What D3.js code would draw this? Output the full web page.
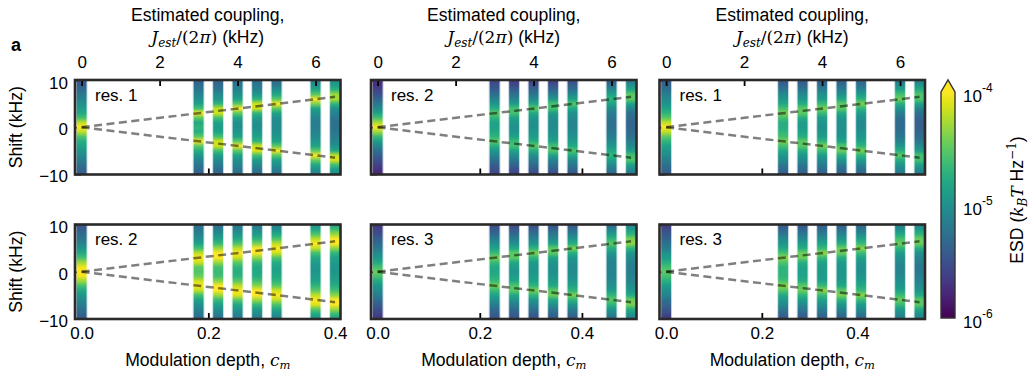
<!DOCTYPE html>
<html>
<head>
<meta charset="utf-8">
<script src="https://cdn.jsdelivr.net/npm/d3@7"></script>
<style>
  body { margin: 0; background: #fff; }
  svg { display: block; font-family: "Liberation Sans", Arial, sans-serif; }
  .math { font-family: "DejaVu Serif", "Liberation Serif", serif; font-style: italic; }
  .upright { font-family: "DejaVu Serif", "Liberation Serif", serif; font-style: normal; }
</style>
</head>
<body>
<svg id="fig" width="1029" height="373"></svg>
<script>
// ---- data -------------------------------------------------------------
// Frequency shift of each spectrum row (kHz), top to bottom
const shifts = [10, 9, 8, 7, 6, 5, 4, 3, 2, 1, 0, -1, -2, -3, -4, -5, -6, -7, -8, -9, -10];
// Target coupling J/(2π) of each measured modulation setting (kHz)
const couplingTargets = [0, 3, 3.5, 4, 4.5, 5, 6, 6.5];
// Coupling produced per unit modulation depth c_m, one per column (kHz)
const depthCalibration = [16.25, 13.1, 12.27];
const resonatorLabels = [["res. 1", "res. 2"], ["res. 2", "res. 3"], ["res. 1", "res. 3"]];
const couplingTicks = [0, 2, 4, 6];
const depthTicks = [0, 0.2, 0.4];
const shiftTicks = [-10, 0, 10];
const esdTicks = [1e-6, 1e-5, 1e-4];

// log10 of the energy spectral density (k_B T / Hz); one row per modulation setting
const esdLeftTop = [
  [-5.45,-5.4,-5.3,-5.2,-5.1,-5.0,-4.9,-4.8,-4.6,-4.2,-4.0,-4.2,-4.55,-4.75,-4.85,-4.95,-5.05,-5.15,-5.25,-5.35,-5.4],
  [-5.4,-5.3,-5.2,-5.1,-5.0,-4.85,-4.6,-4.0,-4.5,-4.8,-4.7,-4.75,-4.5,-4.0,-4.5,-4.75,-4.95,-5.1,-5.2,-5.3,-5.4],
  [-5.35,-5.3,-5.2,-5.05,-4.95,-4.7,-4.2,-4.15,-4.6,-4.85,-4.9,-4.85,-4.6,-4.15,-4.15,-4.6,-4.9,-5.05,-5.15,-5.3,-5.35],
  [-5.3,-5.2,-5.1,-5.0,-4.85,-4.5,-4.0,-4.5,-4.85,-5.0,-5.0,-4.95,-4.85,-4.5,-4.0,-4.5,-4.85,-5.0,-5.1,-5.2,-5.3],
  [-5.3,-5.2,-5.1,-4.95,-4.7,-4.15,-4.15,-4.7,-4.9,-5.0,-5.0,-4.95,-4.85,-4.7,-4.15,-4.1,-4.6,-4.9,-5.05,-5.2,-5.3],
  [-5.3,-5.2,-5.0,-4.8,-4.5,-4.0,-4.5,-4.85,-5.0,-5.05,-5.05,-5.0,-4.95,-4.85,-4.5,-4.0,-4.5,-4.85,-5.0,-5.15,-5.25],
  [-5.15,-5.0,-4.8,-4.5,-4.0,-4.4,-4.85,-5.0,-5.1,-5.15,-5.15,-5.1,-5.05,-4.95,-4.85,-4.5,-4.0,-4.45,-4.8,-5.0,-5.1],
  [-5.0,-4.9,-4.7,-4.3,-4.25,-4.7,-5.0,-5.1,-5.2,-5.25,-5.25,-5.2,-5.15,-5.1,-5.0,-4.8,-4.2,-4.1,-4.6,-4.9,-5.0]
];
const esdLeftBottom = [
  [-5.45,-5.4,-5.3,-5.2,-5.1,-4.95,-4.8,-4.6,-4.3,-4.05,-3.95,-4.05,-4.3,-4.6,-4.8,-4.95,-5.05,-5.15,-5.25,-5.35,-5.45],
  [-5.3,-5.2,-5.1,-5.0,-4.85,-4.6,-4.2,-3.95,-4.15,-4.5,-4.55,-4.45,-4.15,-3.95,-4.2,-4.6,-4.85,-5.0,-5.1,-5.2,-5.35],
  [-5.25,-5.15,-5.0,-4.85,-4.65,-4.3,-3.95,-3.95,-4.3,-4.6,-4.65,-4.6,-4.35,-4.0,-3.95,-4.3,-4.65,-4.85,-5.0,-5.15,-5.25],
  [-5.2,-5.1,-4.95,-4.8,-4.55,-4.2,-3.95,-4.15,-4.5,-4.7,-4.75,-4.7,-4.5,-4.2,-3.95,-4.1,-4.5,-4.8,-4.95,-5.1,-5.2],
  [-5.2,-5.05,-4.9,-4.7,-4.4,-4.0,-3.95,-4.35,-4.65,-4.8,-4.8,-4.75,-4.6,-4.35,-4.0,-3.95,-4.3,-4.65,-4.9,-5.05,-5.2],
  [-5.15,-5.0,-4.8,-4.55,-4.2,-3.95,-4.15,-4.55,-4.75,-4.85,-4.85,-4.8,-4.7,-4.5,-4.15,-3.95,-4.2,-4.55,-4.8,-5.0,-5.15],
  [-5.0,-4.8,-4.55,-4.2,-3.95,-4.2,-4.6,-4.8,-4.9,-4.95,-4.95,-4.9,-4.85,-4.7,-4.5,-4.2,-3.95,-4.1,-4.5,-4.8,-4.95],
  [-4.85,-4.6,-4.3,-4.0,-4.0,-4.35,-4.7,-4.85,-4.9,-4.95,-4.95,-4.9,-4.85,-4.75,-4.6,-4.35,-4.0,-3.95,-4.3,-4.65,-4.85]
];
const esdMiddleTop = [
  [-5.75,-5.7,-5.6,-5.5,-5.35,-5.2,-5.05,-4.85,-4.6,-4.25,-4.0,-4.3,-4.65,-4.9,-5.1,-5.25,-5.4,-5.5,-5.6,-5.7,-5.8],
  [-5.6,-5.5,-5.4,-5.25,-5.1,-4.95,-4.75,-4.5,-4.7,-4.85,-4.85,-4.8,-4.7,-4.5,-4.75,-4.95,-5.1,-5.25,-5.4,-5.5,-5.6],
  [-5.65,-5.55,-5.4,-5.25,-5.1,-4.9,-4.6,-4.6,-4.85,-4.95,-5.0,-4.95,-4.85,-4.65,-4.6,-4.85,-5.05,-5.2,-5.35,-5.5,-5.6],
  [-5.6,-5.5,-5.35,-5.2,-5.05,-4.8,-4.5,-4.8,-4.95,-5.0,-5.0,-4.95,-4.9,-4.75,-4.5,-4.75,-5.0,-5.15,-5.3,-5.45,-5.55],
  [-5.65,-5.5,-5.35,-5.15,-4.95,-4.6,-4.6,-4.9,-5.0,-5.05,-5.05,-5.0,-4.95,-4.85,-4.6,-4.55,-4.85,-5.1,-5.25,-5.4,-5.55],
  [-5.55,-5.4,-5.25,-5.05,-4.85,-4.55,-4.8,-5.0,-5.05,-5.1,-5.1,-5.05,-5.0,-4.9,-4.8,-4.55,-4.8,-5.05,-5.2,-5.35,-5.5],
  [-5.4,-5.25,-5.05,-4.85,-4.7,-4.85,-5.05,-5.15,-5.2,-5.25,-5.25,-5.2,-5.15,-5.05,-4.95,-4.8,-4.7,-4.85,-5.05,-5.2,-5.35],
  [-5.2,-5.0,-4.8,-4.5,-4.5,-4.85,-5.1,-5.25,-5.3,-5.35,-5.35,-5.3,-5.25,-5.15,-5.05,-4.9,-4.6,-4.55,-4.85,-5.05,-5.2]
];
const esdMiddleBottom = [
  [-5.7,-5.6,-5.5,-5.4,-5.3,-5.2,-5.05,-4.95,-4.8,-4.6,-4.45,-4.6,-4.8,-4.95,-5.05,-5.15,-5.3,-5.4,-5.5,-5.6,-5.7],
  [-5.55,-5.45,-5.3,-5.15,-5.0,-4.85,-4.65,-4.4,-4.65,-4.8,-4.8,-4.75,-4.65,-4.4,-4.65,-4.85,-5.0,-5.15,-5.3,-5.4,-5.5],
  [-5.55,-5.45,-5.3,-5.15,-5.0,-4.8,-4.5,-4.5,-4.8,-4.9,-4.95,-4.9,-4.8,-4.55,-4.5,-4.8,-5.0,-5.15,-5.3,-5.4,-5.5],
  [-5.5,-5.4,-5.25,-5.1,-4.95,-4.7,-4.4,-4.7,-4.9,-4.95,-4.95,-4.9,-4.85,-4.7,-4.4,-4.7,-4.95,-5.1,-5.25,-5.4,-5.5],
  [-5.5,-5.35,-5.2,-5.05,-4.85,-4.5,-4.5,-4.85,-4.95,-5.0,-5.0,-4.95,-4.9,-4.8,-4.5,-4.45,-4.8,-5.0,-5.2,-5.35,-5.45],
  [-5.45,-5.3,-5.15,-4.95,-4.75,-4.4,-4.75,-4.95,-5.0,-5.05,-5.05,-5.0,-4.95,-4.85,-4.7,-4.4,-4.7,-4.95,-5.15,-5.3,-5.45],
  [-5.3,-5.1,-4.9,-4.7,-4.5,-4.75,-4.95,-5.05,-5.1,-5.1,-5.1,-5.1,-5.05,-5.0,-4.9,-4.7,-4.5,-4.7,-4.95,-5.1,-5.25],
  [-5.1,-4.9,-4.7,-4.4,-4.35,-4.7,-4.95,-5.05,-5.1,-5.15,-5.15,-5.1,-5.1,-5.0,-4.95,-4.8,-4.45,-4.4,-4.75,-4.95,-5.1]
];
const esdRightTop = [
  [-5.45,-5.35,-5.25,-5.15,-5.05,-4.95,-4.85,-4.7,-4.5,-4.2,-4.0,-4.2,-4.5,-4.7,-4.85,-4.95,-5.05,-5.15,-5.25,-5.35,-5.45],
  [-5.45,-5.35,-5.2,-5.05,-4.95,-4.8,-4.6,-4.4,-4.6,-4.75,-4.75,-4.7,-4.6,-4.4,-4.6,-4.8,-4.95,-5.05,-5.2,-5.3,-5.4],
  [-5.45,-5.35,-5.2,-5.05,-4.95,-4.75,-4.5,-4.5,-4.75,-4.9,-4.9,-4.85,-4.75,-4.5,-4.5,-4.75,-4.95,-5.05,-5.2,-5.3,-5.4],
  [-5.4,-5.3,-5.15,-5.0,-4.9,-4.65,-4.4,-4.65,-4.9,-4.95,-5.0,-4.95,-4.9,-4.7,-4.4,-4.65,-4.9,-5.05,-5.15,-5.3,-5.4],
  [-5.4,-5.3,-5.15,-5.0,-4.8,-4.5,-4.5,-4.8,-4.95,-5.0,-5.0,-5.0,-4.95,-4.85,-4.55,-4.45,-4.75,-4.95,-5.15,-5.3,-5.4],
  [-5.35,-5.25,-5.1,-4.9,-4.7,-4.4,-4.7,-4.9,-5.0,-5.05,-5.05,-5.0,-4.95,-4.85,-4.7,-4.4,-4.7,-4.9,-5.1,-5.25,-5.35],
  [-5.2,-5.05,-4.85,-4.6,-4.45,-4.75,-5.0,-5.15,-5.25,-5.3,-5.3,-5.25,-5.2,-5.1,-4.95,-4.75,-4.5,-4.75,-4.95,-5.1,-5.2],
  [-5.15,-4.95,-4.75,-4.55,-4.55,-4.85,-5.1,-5.25,-5.35,-5.4,-5.4,-5.35,-5.3,-5.2,-5.05,-4.9,-4.6,-4.6,-4.85,-5.05,-5.15]
];
const esdRightBottom = [
  [-5.65,-5.55,-5.45,-5.35,-5.25,-5.15,-5.0,-4.9,-4.75,-4.6,-4.5,-4.6,-4.75,-4.9,-5.0,-5.1,-5.25,-5.35,-5.45,-5.55,-5.7],
  [-5.45,-5.35,-5.2,-5.05,-4.95,-4.8,-4.6,-4.35,-4.55,-4.7,-4.7,-4.7,-4.6,-4.35,-4.55,-4.8,-4.95,-5.05,-5.2,-5.35,-5.45],
  [-5.45,-5.35,-5.2,-5.05,-4.9,-4.75,-4.45,-4.45,-4.75,-4.85,-4.85,-4.85,-4.75,-4.5,-4.45,-4.7,-4.9,-5.05,-5.2,-5.35,-5.45],
  [-5.4,-5.3,-5.15,-5.0,-4.85,-4.65,-4.35,-4.65,-4.85,-4.9,-4.9,-4.9,-4.85,-4.65,-4.35,-4.65,-4.85,-5.0,-5.15,-5.3,-5.4],
  [-5.4,-5.25,-5.1,-4.95,-4.75,-4.45,-4.45,-4.75,-4.9,-4.95,-4.95,-4.95,-4.9,-4.8,-4.5,-4.4,-4.7,-4.95,-5.1,-5.25,-5.4],
  [-5.35,-5.2,-5.05,-4.85,-4.65,-4.35,-4.65,-4.85,-4.95,-5.0,-5.0,-4.95,-4.9,-4.8,-4.65,-4.35,-4.65,-4.9,-5.05,-5.2,-5.35],
  [-5.15,-5.0,-4.8,-4.6,-4.45,-4.7,-4.9,-5.0,-5.05,-5.1,-5.1,-5.05,-5.0,-4.95,-4.85,-4.65,-4.45,-4.65,-4.9,-5.05,-5.15],
  [-5.1,-4.9,-4.7,-4.45,-4.45,-4.75,-5.0,-5.1,-5.15,-5.2,-5.2,-5.15,-5.1,-5.05,-4.95,-4.8,-4.5,-4.5,-4.8,-5.0,-5.1]
];

// ---- layout -----------------------------------------------------------
const colLeft = [75, 371, 659.5];
const rowTop = [80, 224.5];
const panelW = 265.5, panelH = 94.5;
const couplingDomain = [-0.17, 6.64];
const shiftDomain = [-10.1, 10.1];
const stripeHalfWidth = 0.125;   // kHz, half of the bin spacing
const frameColor = "#2a2a2a";

const svg = d3.select("#fig");
const defs = svg.append("defs");
const color = d3.scaleSequentialLog(d3.interpolateViridis).domain([1e-6, 1e-4]).clamp(true);

const esdByPanel = [
  [esdLeftTop, esdLeftBottom],
  [esdMiddleTop, esdMiddleBottom],
  [esdRightTop, esdRightBottom]
];

function styleAxis(g, size) {
  g.select(".domain").remove();
  g.selectAll(".tick line").attr("stroke", "#000").attr("stroke-width", 1.8);
  g.selectAll(".tick text").attr("font-size", size).attr("fill", "#000")
    .attr("font-family", "'Liberation Sans', Arial, sans-serif");
  g.attr("font-family", null).attr("font-size", null);
}

for (let c = 0; c < 3; c++) {
  for (let r = 0; r < 2; r++) {
    const left = colLeft[c], top = rowTop[r];
    const id = `p${c}${r}`;
    const esd = esdByPanel[c][r];
    const x = d3.scaleLinear().domain(couplingDomain).range([left, left + panelW]);
    const depth = d3.scaleLinear()
      .domain(couplingDomain.map(v => v / depthCalibration[c]))
      .range([left, left + panelW]);
    const y = d3.scaleLinear().domain(shiftDomain).range([top + panelH, top]);

    const g = svg.append("g");

    defs.append("clipPath").attr("id", "clip" + id)
      .append("rect").attr("x", left).attr("y", top).attr("width", panelW).attr("height", panelH);

    // bottom and left axes sit underneath the spectra
    const bottomAxis = g.append("g").attr("transform", `translate(0,${top + panelH})`)
      .call(d3.axisBottom(depth).tickValues(depthTicks).tickSize(-6).tickPadding(8.4)
        .tickFormat(r === 1 ? d3.format(".1f") : () => ""));
    styleAxis(bottomAxis, 17);

    const leftAxis = g.append("g").attr("transform", `translate(${left},0)`)
      .call(d3.axisLeft(y).tickValues(shiftTicks).tickSize(-6).tickPadding(7)
        .tickFormat(c === 0 ? d3.format("d") : () => ""));
    styleAxis(leftAxis, 17);
    leftAxis.selectAll(".tick text").attr("dy", "0.45em");

    // spectra, one vertical strip per modulation setting
    const strips = g.append("g").attr("clip-path", `url(#clip${id})`);
    const y0 = y(shifts[0]), y1 = y(shifts[shifts.length - 1]);
    couplingTargets.forEach((J, si) => {
      const gid = `grad${id}_${si}`;
      const grad = defs.append("linearGradient").attr("id", gid)
        .attr("gradientUnits", "userSpaceOnUse")
        .attr("x1", 0).attr("x2", 0).attr("y1", y0).attr("y2", y1);
      shifts.forEach((s, k) => {
        grad.append("stop")
          .attr("offset", (y(s) - y0) / (y1 - y0))
          .attr("stop-color", color(Math.pow(10, esd[si][k])));
      });
      const xa = x(J - stripeHalfWidth), xb = x(J + stripeHalfWidth);
      strips.append("rect")
        .attr("x", xa - 1).attr("width", xb - xa + 2)
        .attr("y", top).attr("height", panelH)
        .attr("fill", `url(#${gid})`).attr("opacity", 0.3);
      strips.append("rect")
        .attr("x", xa).attr("width", xb - xa)
        .attr("y", top).attr("height", panelH)
        .attr("fill", `url(#${gid})`);
    });

    // expected splitting ±J
    const Jmax = couplingTargets[couplingTargets.length - 1];
    const line = d3.line().x(d => x(d[0])).y(d => y(d[1]));
    [1, -1].forEach(sign => {
      strips.append("path")
        .attr("d", line([[0, 0], [Jmax, sign * Jmax]]))
        .attr("fill", "none")
        .attr("stroke", "rgba(0,0,0,0.5)")
        .attr("stroke-width", 2.5)
        .attr("stroke-dasharray", "8,4.5");
    });

    // coupling axis on top of the upper row
    if (r === 0) {
      const topAxis = g.append("g").attr("transform", `translate(0,${top})`)
        .call(d3.axisTop(x).tickValues(couplingTicks).tickSize(-6).tickPadding(12.2)
          .tickFormat(d3.format("d")));
      styleAxis(topAxis, 17);
    }

    // frame
    g.append("rect").attr("x", left).attr("y", top).attr("width", panelW).attr("height", panelH)
      .attr("fill", "none").attr("stroke", frameColor).attr("stroke-width", 2.6);

    // resonator tag
    g.append("text").attr("x", left + 20).attr("y", top + 20.7)
      .attr("font-size", 17).text(resonatorLabels[c][r]);

    // axis titles
    const cx = left + panelW / 2;
    if (r === 0) {
      g.append("text").attr("x", cx).attr("y", 21).attr("text-anchor", "middle")
        .attr("font-size", 17.6).text("Estimated coupling,");
      const t2 = g.append("text").attr("x", cx).attr("y", 42.5).attr("text-anchor", "middle")
        .attr("font-size", 17.6);
      t2.append("tspan").attr("class", "math").attr("font-size", 17).text("J");
      t2.append("tspan").attr("class", "math").attr("font-size", 12).attr("dy", 4).text("est");
      t2.append("tspan").attr("class", "upright").attr("font-size", 17).attr("dy", -4).text("/(2");
      t2.append("tspan").attr("class", "math").attr("font-size", 17).text("π");
      t2.append("tspan").attr("class", "upright").attr("font-size", 17).text(")");
      t2.append("tspan").text(" (kHz)");
    } else {
      const t = g.append("text").attr("x", cx).attr("y", 365.5).attr("text-anchor", "middle")
        .attr("font-size", 17.6);
      t.append("tspan").text("Modulation depth, ");
      t.append("tspan").attr("class", "math").attr("font-size", 17).text("c");
      t.append("tspan").attr("class", "math").attr("font-size", 11.5).attr("dy", 3.5).text("m");
    }
    if (c === 0) {
      g.append("text")
        .attr("transform", `translate(22,${top + panelH / 2}) rotate(-90)`)
        .attr("text-anchor", "middle").attr("font-size", 17.6).text("Shift (kHz)");
    }
  }
}

// panel letter
svg.append("text").attr("x", 11).attr("y", 50.7).attr("font-size", 18)
  .attr("font-weight", "bold").text("a");

// ---- colour bar -------------------------------------------------------
const cb = { x: 941, w: 14, top: 92, bottom: 318, tip: 80 };
const cbScale = d3.scaleLog().domain([1e-6, 1e-4]).range([cb.bottom, cb.top]);
const cbGrad = defs.append("linearGradient").attr("id", "cbGrad")
  .attr("gradientUnits", "userSpaceOnUse")
  .attr("x1", 0).attr("x2", 0).attr("y1", cb.bottom).attr("y2", cb.top);
d3.range(0, 1.0001, 0.05).forEach(t => {
  const v = Math.pow(10, -6 + 2 * t);
  cbGrad.append("stop").attr("offset", t).attr("stop-color", color(v));
});
svg.append("path")
  .attr("d", `M${cb.x},${cb.bottom}L${cb.x},${cb.top}L${cb.x + cb.w / 2},${cb.tip}L${cb.x + cb.w},${cb.top}L${cb.x + cb.w},${cb.bottom}Z`)
  .attr("fill", "url(#cbGrad)")
  .attr("stroke", "#333").attr("stroke-width", 1.4);

const cbLabels = svg.append("g");
esdTicks.forEach(t => {
  const ty = cbScale(t);
  const txt = cbLabels.append("text").attr("x", cb.x + cb.w + 8).attr("y", ty + 10)
    .attr("font-size", 17);
  txt.append("tspan").text("10");
  txt.append("tspan").attr("font-size", 12).attr("dy", -10.5)
    .text("-" + Math.abs(Math.round(Math.log10(t))));
});

const cbTitle = svg.append("text")
  .attr("transform", `translate(1023,200) rotate(-90)`)
  .attr("text-anchor", "middle").attr("font-size", 17.6);
cbTitle.append("tspan").text("ESD (");
cbTitle.append("tspan").attr("class", "math").attr("font-size", 17).text("k");
cbTitle.append("tspan").attr("class", "math").attr("font-size", 12).attr("dy", 4).text("B");
cbTitle.append("tspan").attr("class", "math").attr("font-size", 17).attr("dy", -4).text("T");
cbTitle.append("tspan").text(" Hz");
cbTitle.append("tspan").attr("class", "upright").attr("font-size", 12).attr("dy", -7).text("−1");
cbTitle.append("tspan").attr("dy", 7).text(")");
</script>
</body>
</html>
